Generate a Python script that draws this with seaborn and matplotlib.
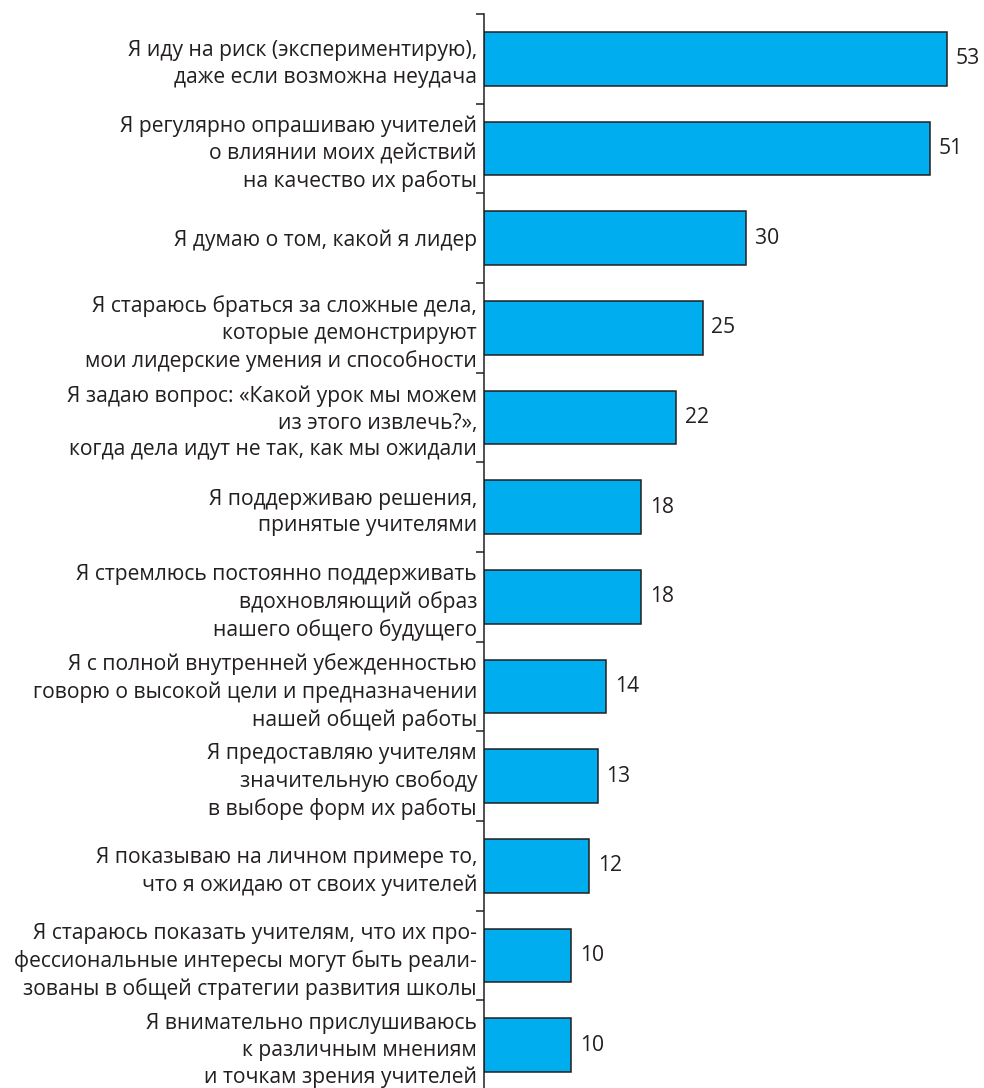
import matplotlib
matplotlib.use("Agg")
import matplotlib.pyplot as plt
import seaborn as sns
import numpy as np
import pandas as pd

categories = [
    "Я иду на риск (экспериментирую),\nдаже если возможна неудача",
    "Я регулярно опрашиваю учителей\nо влиянии моих действий\nна качество их работы",
    "Я думаю о том, какой я лидер",
    "Я стараюсь браться за сложные дела,\nкоторые демонстрируют\nмои лидерские умения и способности",
    "Я задаю вопрос: «Какой урок мы можем\nиз этого извлечь?»,\nкогда дела идут не так, как мы ожидали",
    "Я поддерживаю решения,\nпринятые учителями",
    "Я стремлюсь постоянно поддерживать\nвдохновляющий образ\nнашего общего будущего",
    "Я с полной внутренней убежденностью\nговорю о высокой цели и предназначении\nнашей общей работы",
    "Я предоставляю учителям\nзначительную свободу\nв выборе форм их работы",
    "Я показываю на личном примере то,\nчто я ожидаю от своих учителей",
    "Я стараюсь показать учителям, что их про-\nфессиональные интересы могут быть реали-\nзованы в общей стратегии развития школы",
    "Я внимательно прислушиваюсь\nк различным мнениям\nи точкам зрения учителей",
]
values = [53, 51, 30, 25, 22, 18, 18, 14, 13, 12, 10, 10]

sns.set_style("white")
plt.rcParams["font.family"] = ["Open Sans", "DejaVu Sans"]

W, H = 984, 1088
AX_X = 484          # pixel column of the value axis
PX_PER_UNIT = 8.74  # horizontal scale
fig = plt.figure(figsize=(W / 100, H / 100), dpi=100)
ax_top = 14 / H
ax_h = 1076 / H
ax = fig.add_axes([AX_X / W, 1 - ax_top - ax_h, (W - AX_X) / W, ax_h])

df = pd.DataFrame({"cat": categories, "val": values})
sns.barplot(data=df, x="val", y="cat", orient="h", color="#00AEEF",
            saturation=1, edgecolor="#231F20", linewidth=1.1, width=0.6, ax=ax)

n = len(categories)
ax.set_xlim(0, (W - AX_X) / PX_PER_UNIT)
ax.set_ylim(n - 0.5, -0.5)

# major ticks mark category boundaries, minor ticks carry the labels
ax.set_yticks(np.arange(n + 1) - 0.5)
ax.set_yticklabels([])
ax.set_yticks(np.arange(n), minor=True)
ax.set_yticklabels(categories, minor=True, fontsize=15.25, linespacing=1.36)
ax.tick_params(axis="y", which="major", length=6, width=1.1, color="#231F20", left=True, direction="out")
ax.tick_params(axis="y", which="minor", length=0, pad=5, labelcolor="#231F20")
ax.set_xticks([])
ax.set_xlabel("")
ax.set_ylabel("")

for s in ["top", "right", "bottom"]:
    ax.spines[s].set_visible(False)
ax.spines["left"].set_linewidth(1.1)
ax.spines["left"].set_color("#231F20")

for i, v in enumerate(values):
    ax.text(v + 1.0, i, str(v), va="center", ha="left", fontsize=15.25, color="#231F20")

fig.savefig("out.png", dpi=100)
